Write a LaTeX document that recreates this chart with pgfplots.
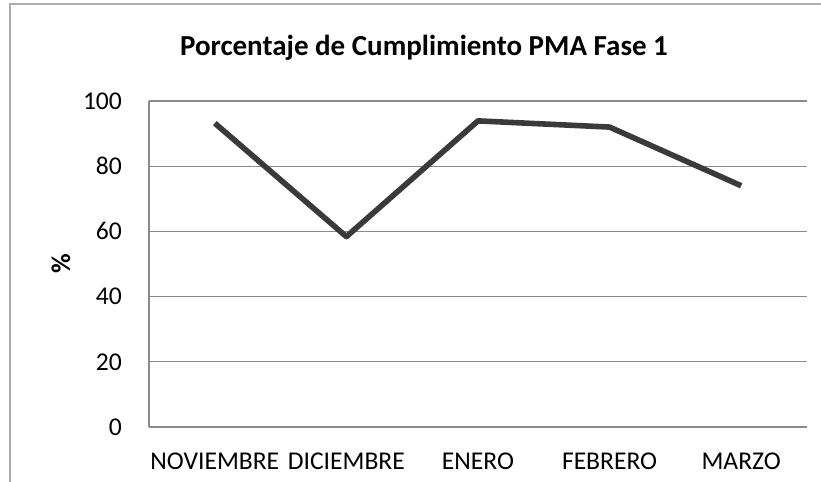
\documentclass[border=0pt]{standalone}
\usepackage{pgfplots}
\pgfplotsset{compat=1.18}
\usepackage{fontspec}
\setmainfont{Carlito}
\definecolor{linec}{HTML}{3A3A3A}
\definecolor{gridc}{HTML}{8A8A8A}
\begin{document}
\begin{tikzpicture}
\useasboundingbox (0,0) rectangle (410.5pt,241pt);
\draw[gridc!70, line width=0.6pt] (5pt,0) -- (5pt,239pt) -- (410.5pt,239pt);
\node[font=\bfseries\fontsize{14.5}{16}\selectfont] at (212pt,217pt) {Porcentaje de Cumplimiento PMA Fase 1};
\begin{axis}[
  at={(74.5pt,27.5pt)}, anchor=south west,
  scale only axis, width=329pt, height=163pt,
  xmin=-0.5, xmax=4.5, ymin=0, ymax=100,
  xtick={0,1,2,3,4},
  xticklabels={NOVIEMBRE,DICIEMBRE,ENERO,FEBRERO,MARZO},
  ytick={0,20,40,60,80,100},
  ymajorgrids, major grid style={gridc, line width=0.6pt},
  axis x line=bottom, axis y line=left,
  axis line style={gridc, line width=0.6pt, -},
  major tick length=0pt,
  tick label style={font=\fontsize{12.8}{14}\selectfont},
  /pgf/number format/assume math mode=true,
  xticklabel style={yshift=-9.5pt},
  yticklabel style={xshift=-10pt},
  ylabel={\bfseries\%}, ylabel style={font=\fontsize{13.5}{15}\selectfont, xshift=0pt, yshift=-0.5pt},
  clip=false,
]
\addplot[linec, line width=2.8pt, line join=round] coordinates {
(0,93.2) (1,58.4) (2,93.9) (3,92.0) (4,74.0)
};
\end{axis}
\end{tikzpicture}
\end{document}
